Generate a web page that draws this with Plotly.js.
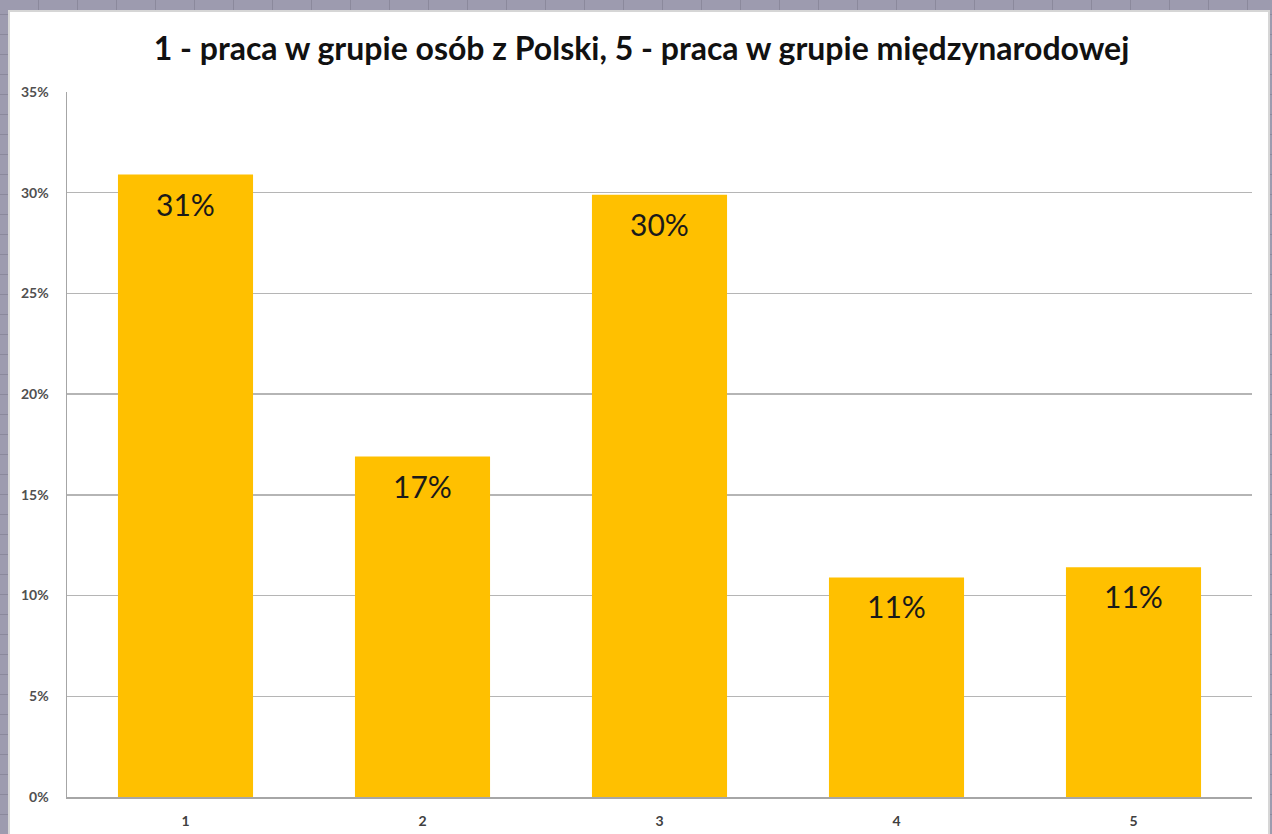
<!DOCTYPE html>
<html>
<head>
<meta charset="utf-8">
<script src="https://cdn.plot.ly/plotly-3.0.1.min.js"></script>
<style>
  html, body {
    margin: 0;
    padding: 0;
    width: 1272px;
    height: 834px;
    overflow: hidden;
    background-color: #9d9baf;
    background-image:
      repeating-linear-gradient(90deg, transparent 0px, transparent 38px, #8b899c 38px, #8b899c 39px),
      repeating-linear-gradient(0deg, transparent 0px, transparent 19px, #8b899c 19px, #8b899c 20px);
  }
  #frame {
    position: absolute;
    left: 8px;
    top: 10px;
    width: 1262px;
    height: 830px;
    box-sizing: border-box;
    background: #ffffff;
    border: 2px solid #d6d6d6;
  }
  #chart {
    width: 1258px;
    height: 826px;
  }
</style>
</head>
<body>
<div id="frame"><div id="chart"></div></div>
<script>
// answers on the 1..5 scale, share of respondents
const categories = ["1", "2", "3", "4", "5"];
const shares = [0.309, 0.169, 0.299, 0.109, 0.114];
const shareLabels = ["31%", "17%", "30%", "11%", "11%"];
const yTicks = [0, 0.05, 0.10, 0.15, 0.20, 0.25, 0.30, 0.35];

const chartTitle = "1 - praca w grupie osób z Polski, 5 - praca w grupie międzynarodowej";

function drawChart() {
  const trace = {
    type: "bar",
    x: categories,
    y: shares,
    marker: { color: "#ffc000", line: { width: 0 } },
    hoverinfo: "skip"
  };

  // value labels sit a bit below the top of each bar, like in Excel
  // (x given as category index, a "1" string would be read as a position)
  const labels = categories.map((c, i) => ({
    x: i,
    y: shares[i],
    xref: "x",
    yref: "y",
    text: shareLabels[i],
    showarrow: false,
    yanchor: "middle",
    yshift: -29,
    font: { family: "Lato, 'Noto Sans', sans-serif", size: 30, color: "#1a1a1a" }
  }));

  const layout = {
    width: 1258,
    height: 826,
    margin: { l: 57, r: 16, t: 80, b: 41 },
    paper_bgcolor: "#ffffff",
    plot_bgcolor: "#ffffff",
    showlegend: false,
    bargap: 0.43,
    title: {
      text: chartTitle,
      xref: "container",
      x: 0.502,
      xanchor: "center",
      yref: "container",
      y: 0.955,
      yanchor: "middle",
      font: { family: "Lato, 'Noto Sans', sans-serif", size: 32, color: "#111111", weight: "bold" }
    },
    xaxis: {
      type: "category",
      range: [-0.5, 4.5],
      showgrid: false,
      showline: true,
      linecolor: "#a6a6a6",
      linewidth: 2,
      ticks: "",
      ticklabelstandoff: 10,
      tickfont: { family: "Lato, 'Noto Sans', sans-serif", size: 14, color: "#404040", weight: "bold" },
      zeroline: false
    },
    yaxis: {
      range: [0, 0.35],
      tickvals: yTicks,
      tickformat: ".0%",
      showgrid: true,
      gridcolor: "#b5b5b5",
      gridwidth: 1.5,
      showline: true,
      linecolor: "#a6a6a6",
      linewidth: 1.5,
      ticks: "",
      ticklabelstandoff: 14,
      tickfont: { family: "Lato, 'Noto Sans', sans-serif", size: 14, color: "#505050", weight: "bold" },
      zeroline: false
    },
    annotations: labels
  };

  Plotly.newPlot("chart", [trace], layout, { displayModeBar: false, staticPlot: true });
}

document.addEventListener("DOMContentLoaded", drawChart);
</script>
</body>
</html>
